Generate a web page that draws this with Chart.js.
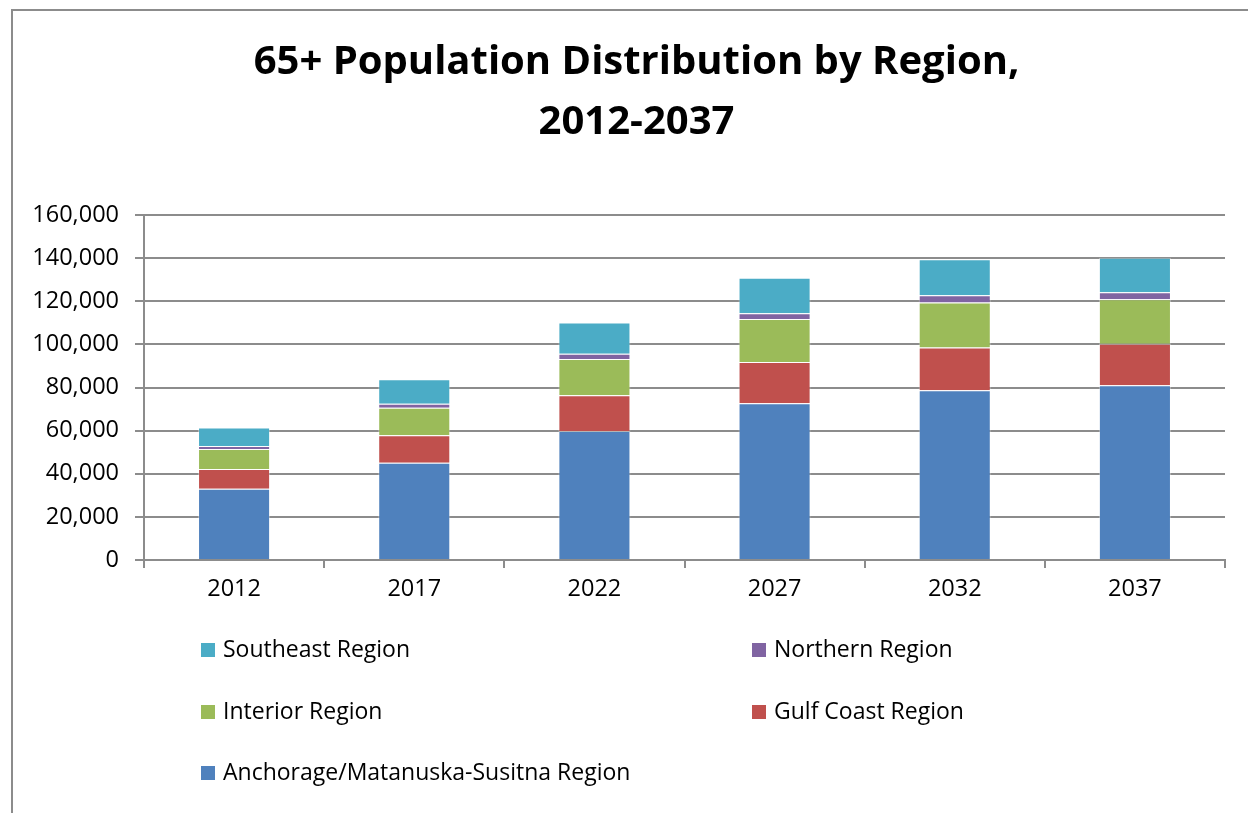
<!DOCTYPE html>
<html>
<head>
<meta charset="utf-8">
<title>65+ Population Distribution by Region, 2012-2037</title>
<script src="https://cdn.jsdelivr.net/npm/chart.js@4/dist/chart.umd.min.js"></script>
<style>
  html, body { margin: 0; padding: 0; background: #fff; }
  body { width: 1248px; height: 813px; position: relative; overflow: hidden; }
  #frame {
    position: absolute; left: 11px; top: 9px; width: 1300px; height: 900px;
    border-top: 2px solid #8c8c8c; border-left: 2px solid #8c8c8c;
  }
  #chart { position: absolute; left: 0; top: 0; }
</style>
</head>
<body>
<div id="frame"></div>
<canvas id="chart" width="1248" height="813"></canvas>
<script>
// Projected population aged 65+ by Alaska region
const years = ['2012', '2017', '2022', '2027', '2032', '2037'];
const anchorageMatSu = [33100, 45100, 59800, 72700, 78700, 81000];
const gulfCoast      = [9100, 12700, 16600, 19100, 19800, 19300];
const interior       = [9300, 12800, 16800, 20000, 20900, 20600];
const northern       = [1400, 1900, 2500, 2600, 3400, 3300];
const southeast      = [8500, 11300, 14400, 16500, 16700, 16000];
const yTicks = [0, 20000, 40000, 60000, 80000, 100000, 120000, 140000, 160000];

const FONT = '"Open Sans", "Liberation Sans", sans-serif';
const GRID = '#8c8c8c';

const series = [
  { label: 'Anchorage/Matanuska-Susitna Region', data: anchorageMatSu, color: '#4F81BD' },
  { label: 'Gulf Coast Region', data: gulfCoast, color: '#C0504D' },
  { label: 'Interior Region', data: interior, color: '#9BBB59' },
  { label: 'Northern Region', data: northern, color: '#8064A2' },
  { label: 'Southeast Region', data: southeast, color: '#4BACC6' }
];

// Centre the title over the whole frame rather than the padded layout box
const titleShift = {
  id: 'titleShift',
  afterLayout(chart) {
    if (chart.titleBlock) chart.titleBlock.left += 20;
  }
};

// Two-column legend under the plot, top of the stack listed first
const gridLegend = {
  id: 'gridLegend',
  afterDraw(chart) {
    const ctx = chart.ctx;
    const items = chart.data.datasets.slice().reverse();
    const colX = [201, 752];
    const rowY = [650, 712, 773];
    ctx.save();
    ctx.font = '23px ' + FONT;
    ctx.textBaseline = 'middle';
    ctx.textAlign = 'left';
    items.forEach((ds, i) => {
      const x = colX[i % 2];
      const y = rowY[Math.floor(i / 2)];
      ctx.fillStyle = ds.backgroundColor;
      ctx.fillRect(x, y - 7, 14, 14);
      ctx.fillStyle = '#000';
      ctx.fillText(ds.label, x + 22, y);
    });
    ctx.restore();
  }
};

new Chart(document.getElementById('chart'), {
  type: 'bar',
  data: {
    labels: years,
    datasets: series.map(s => ({
      label: s.label,
      data: s.data,
      backgroundColor: s.color,
      borderColor: 'rgba(255,255,255,0.35)',
      borderWidth: 1,
      categoryPercentage: 1.0,
      barPercentage: 0.4
    }))
  },
  options: {
    responsive: false,
    animation: false,
    devicePixelRatio: 1,
    layout: { padding: { left: 28, right: 23, top: 0, bottom: 0 } },
    plugins: {
      legend: { display: false },
      tooltip: { enabled: false },
      title: {
        display: true,
        text: ['65+ Population Distribution by Region,', '2012-2037'],
        color: '#000',
        font: { family: FONT, size: 40, weight: 'bold', lineHeight: 1.5 },
        padding: { top: 33, bottom: 62 }
      }
    },
    scales: {
      x: {
        stacked: true,
        offset: true,
        grid: {
          offset: true,
          drawOnChartArea: false,
          drawTicks: true,
          tickLength: 8,
          color: GRID,
          lineWidth: 2
        },
        border: { color: GRID, width: 2 },
        ticks: { color: '#000', font: { family: FONT, size: 23.5 }, padding: 7 },
        afterFit(scale) { scale.height = 813 - 560; }
      },
      y: {
        stacked: true,
        min: 0,
        max: 160000,
        afterBuildTicks(scale) { scale.ticks = yTicks.map(v => ({ value: v })); },
        grid: { color: GRID, lineWidth: 2, tickLength: 9 },
        border: { color: GRID, width: 2 },
        ticks: {
          color: '#000',
          font: { family: FONT, size: 23.5 },
          padding: 16,
          callback: v => v.toLocaleString('en-US')
        },
        afterFit(scale) { scale.width = 116; }
      }
    }
  },
  plugins: [titleShift, gridLegend]
});
</script>
</body>
</html>
